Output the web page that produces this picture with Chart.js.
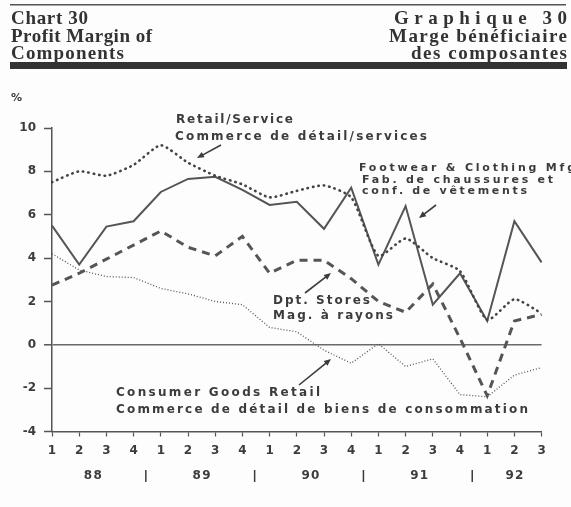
<!DOCTYPE html>
<html>
<head>
<meta charset="utf-8">
<script src="https://cdn.jsdelivr.net/npm/chart.js@4.4.1/dist/chart.umd.min.js"></script>
<style>
  html, body { margin: 0; padding: 0; background: #fdfdfd; }
  canvas { display: block; }
</style>
</head>
<body>
<canvas id="marginChart" width="571" height="507"></canvas>
<script>
// quarters 1988 Q1 .. 1992 Q3
const quarters = ["1","2","3","4","1","2","3","4","1","2","3","4","1","2","3","4","1","2","3"];
const yearLabels = ["88", "89", "90", "91", "92"];
const yTicks = [-4, -2, 0, 2, 4, 6, 8, 10];

// profit margin, %
const retailService = [7.5, 8.0, 7.8, 8.3, 9.2, 8.4, 7.8, 7.4, 6.8, 7.1, 7.35, 6.8, 4.1, 4.9, 4.0, 3.4, 1.15, 2.1, 1.45];
const footwearClothing = [5.5, 3.7, 5.45, 5.7, 7.05, 7.65, 7.75, 7.15, 6.45, 6.6, 5.35, 7.25, 3.7, 6.4, 1.85, 3.3, 1.1, 5.7, 3.8];
const dptStores = [2.75, 3.3, 3.95, 4.6, 5.25, 4.5, 4.1, 5.0, 3.3, 3.9, 3.9, 3.05, 2.0, 1.5, 2.8, 0.3, -2.35, 1.1, 1.4];
const consumerGoods = [4.2, 3.45, 3.15, 3.1, 2.6, 2.35, 2.0, 1.85, 0.8, 0.6, -0.25, -0.85, 0.05, -1.0, -0.65, -2.3, -2.4, -1.4, -1.05];

const ink = "#3c3c3c";
const lineInk = "#555";
const sansFamily = "'DejaVu Sans', Verdana, sans-serif";
const serifFont = "bold 19px 'Liberation Serif', 'Times New Roman', serif";

// spread a string so it spans the given width
function fitText(ctx, text, x, y, width, align) {
  ctx.letterSpacing = "0px";
  const natural = ctx.measureText(text).width;
  const gap = (width - natural) / (text.length - 1);
  ctx.letterSpacing = gap + "px";
  ctx.textAlign = "left";
  ctx.fillText(text, align === "right" ? x - width : x, y);
  ctx.letterSpacing = "0px";
}

function arrow(ctx, x1, y1, x2, y2) {
  const a = Math.atan2(y2 - y1, x2 - x1);
  const len = 7, half = 3;
  ctx.beginPath();
  ctx.moveTo(x1, y1);
  ctx.lineTo(x2 - Math.cos(a) * len * 0.8, y2 - Math.sin(a) * len * 0.8);
  ctx.stroke();
  ctx.beginPath();
  ctx.moveTo(x2, y2);
  ctx.lineTo(x2 - Math.cos(a) * len - Math.sin(a) * half, y2 - Math.sin(a) * len + Math.cos(a) * half);
  ctx.lineTo(x2 - Math.cos(a) * len + Math.sin(a) * half, y2 - Math.sin(a) * len - Math.cos(a) * half);
  ctx.closePath();
  ctx.fill();
}

const decorations = {
  id: "decorations",
  afterDraw(chart) {
    const ctx = chart.ctx;
    const x = chart.scales.x;
    ctx.save();
    ctx.strokeStyle = ink;
    ctx.textBaseline = "middle";

    // header rules
    ctx.fillStyle = "#555";
    ctx.fillRect(10, 4, 556, 1.5);
    ctx.fillStyle = "#333";
    ctx.fillRect(10, 62, 557, 7);

    // header text
    ctx.font = serifFont;
    fitText(ctx, "Chart 30", 11, 19, 77);
    fitText(ctx, "Profit Margin of", 11, 37, 141);
    fitText(ctx, "Components", 11, 54, 113);
    fitText(ctx, "Graphique 30", 567, 19, 173, "right");
    fitText(ctx, "Marge bénéficiaire", 567, 37, 178, "right");
    fitText(ctx, "des composantes", 567, 54, 156, "right");

    ctx.font = "bold 11px " + sansFamily;
    ctx.fillStyle = ink;
    ctx.textAlign = "left";
    ctx.fillText("%", 11, 98);

    // years under the quarter labels
    const px = i => x.getPixelForValue(Math.floor(i)) +
      (i % 1) * (x.getPixelForValue(Math.floor(i) + 1) - x.getPixelForValue(Math.floor(i)));
    const yearCenters = [1.5, 5.5, 9.5, 13.5, 17];
    ctx.font = "bold 12px " + sansFamily;
    yearLabels.forEach((yr, k) => fitText(ctx, yr, px(yearCenters[k]) - 9, 476, 18));
    ctx.lineWidth = 1.5;
    [3.45, 7.45, 11.45, 15.45].forEach(i => {
      ctx.beginPath();
      ctx.moveTo(px(i), 470);
      ctx.lineTo(px(i), 482);
      ctx.stroke();
    });

    // series labels
    ctx.font = "bold 12px " + sansFamily;
    fitText(ctx, "Retail/Service", 176, 120, 117);
    fitText(ctx, "Commerce de détail/services", 175, 137, 252);
    fitText(ctx, "Dpt. Stores", 273, 301, 97);
    fitText(ctx, "Mag. à rayons", 273, 316, 120);
    fitText(ctx, "Consumer Goods Retail", 116, 393, 204);
    fitText(ctx, "Commerce de détail de biens de consommation", 116, 410, 412);
    ctx.font = "bold 11px " + sansFamily;
    fitText(ctx, "Footwear & Clothing Mfg", 359, 168, 216);
    fitText(ctx, "Fab. de chaussures et", 362, 180, 191);
    fitText(ctx, "conf. de vêtements", 362, 191, 165);

    ctx.lineWidth = 1.6;
    arrow(ctx, 221, 145, 197, 158);
    arrow(ctx, 436, 205, 419, 218);
    arrow(ctx, 305, 293, 331, 273);
    arrow(ctx, 299, 385, 331, 359);
    ctx.restore();
  }
};

const tickFont = { family: sansFamily, size: 12, weight: "bold" };

new Chart(document.getElementById("marginChart"), {
  type: "line",
  data: {
    labels: quarters,
    datasets: [
      {
        label: "Retail/Service",
        data: retailService,
        borderColor: "#444",
        borderWidth: 2.6,
        borderDash: [0.5, 5],
        borderCapStyle: "round",
        tension: 0.2
      },
      {
        label: "Footwear & Clothing Mfg",
        data: footwearClothing,
        borderColor: lineInk,
        borderWidth: 2,
        tension: 0
      },
      {
        label: "Dpt. Stores",
        data: dptStores,
        borderColor: lineInk,
        borderWidth: 3,
        borderDash: [8, 6],
        tension: 0
      },
      {
        label: "Consumer Goods Retail",
        data: consumerGoods,
        borderColor: "#555",
        borderWidth: 1.3,
        borderDash: [1, 2],
        tension: 0
      }
    ]
  },
  options: {
    responsive: false,
    devicePixelRatio: 1,
    animation: false,
    elements: { point: { radius: 0 } },
    layout: { padding: { top: 128, right: 29.4, left: 0, bottom: 0 } },
    plugins: { legend: { display: false }, tooltip: { enabled: false } },
    scales: {
      x: {
        offset: false,
        afterFit: s => { s.height = 75.5; },
        grid: { drawOnChartArea: false, tickLength: 5, tickColor: lineInk, tickWidth: 1.2, offset: false },
        border: { color: lineInk, width: 1.5 },
        ticks: { font: tickFont, color: ink, padding: 7, autoSkip: false, maxRotation: 0 }
      },
      y: {
        min: -4,
        max: 10,
        afterFit: s => { s.width = 52; },
        afterBuildTicks: s => { s.ticks = yTicks.map(v => ({ value: v })); },
        grid: {
          color: c => (c.tick && c.tick.value === 0 ? "#6a6a6a" : "rgba(0,0,0,0)"),
          lineWidth: c => (c.tick && c.tick.value === 0 ? 1.6 : 1),
          tickColor: lineInk,
          tickLength: 8,
          tickWidth: 1.5
        },
        border: { color: lineInk, width: 1.5 },
        ticks: { font: tickFont, color: ink, padding: 8 }
      }
    }
  },
  plugins: [decorations]
});
</script>
</body>
</html>
